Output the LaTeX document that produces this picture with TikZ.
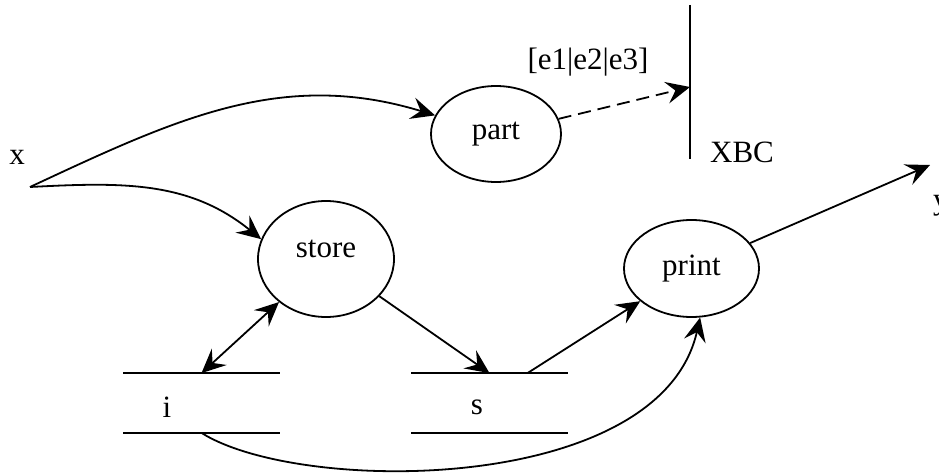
\documentclass[tikz,border=0pt]{standalone}
\usepackage{fontspec}
\setmainfont{Liberation Serif}
\usetikzlibrary{arrows.meta, shapes.geometric}

\begin{document}
\begin{tikzpicture}[x=1pt, y=1pt, line width=1.8pt,
    font=\fontsize{31}{36}\selectfont,
    >={Stealth[length=24pt, width=22pt, inset=9pt]},
    proc/.style={draw, ellipse, inner sep=0pt, minimum width=135pt, minimum height=97pt},
    datastore/.style={inner sep=0pt, minimum width=155pt, minimum height=58pt}]
  \useasboundingbox (0,0) rectangle (939,475);
  % processes
  \node (part) [proc, minimum width=130pt, minimum height=96pt] at (496,341) {part};
  \node (store) [proc, minimum width=136pt, minimum height=116pt, text height=21pt, text depth=24pt] at (326,216) {store};
  \node (print) [proc] at (691.5,206.5) {print};
  % data stores
  \node (istore) [datastore] at (201.5,72) {};
  \node (sstore) [datastore] at (489.5,72) {};
  \draw (istore.north west) -- (istore.north east) (istore.south west) -- (istore.south east);
  \draw (sstore.north west) -- (sstore.north east) (sstore.south west) -- (sstore.south east);
  \node (ilabel) at (167,68) {i};
  \node (slabel) at (477,68) {s};
  % terminator bar
  \coordinate (bartop) at (690,470);
  \coordinate (barbot) at (690,316);
  \coordinate (barin) at (690,388);
  \draw (bartop) -- (barbot);
  \node (elist) at (588,413) {[e1|e2|e3]};
  \node (xbc) at (742,323) {XBC};
  % in and out
  \node (xlabel) at (17,318) {x};
  \coordinate (xsrc) at (30,288);
  \node (ylabel) [anchor=base west] at (929,266) {y};
  \coordinate (yout) at (930,310);
  % flows
  \draw[->] (xsrc) to[out=25, in=163] (part);
  \draw[->] (xsrc) to[out=3, in=141] (store.163);
  \draw[->, dash pattern=on 13pt off 7pt] (part) -- (barin);
  \draw[<->] (istore.north) -- (store);
  \draw[->] (store) -- (sstore.north);
  \draw[->] ([xshift=38pt]sstore.north) -- (print);
  \draw[->] (istore.south) .. controls (300,-20) and (660,-20) .. (print.-80);
  \draw[->] (print) -- (yout);
\end{tikzpicture}
\end{document}
